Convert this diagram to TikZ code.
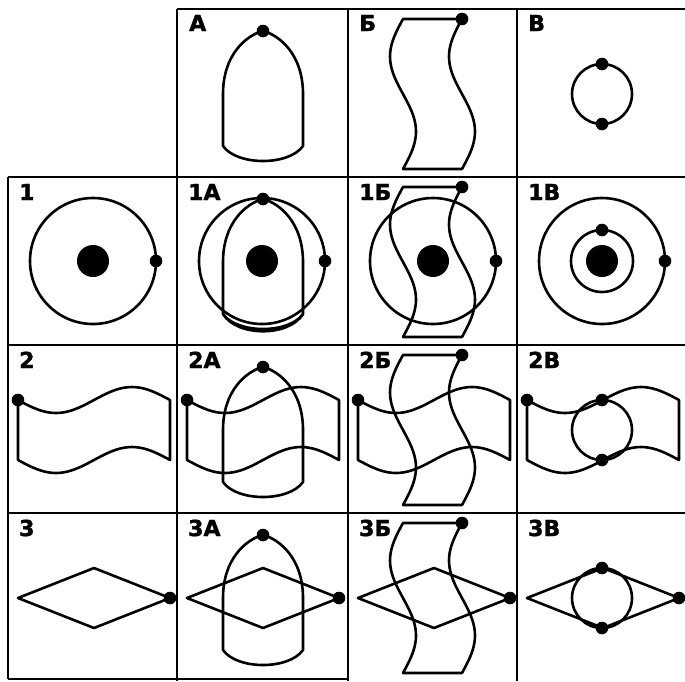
\documentclass[tikz,border=0pt]{standalone}
\usepackage{fontspec}
\newfontfamily\cellfont[BoldFeatures={FakeBold=1.6}]{DejaVu Sans}

\begin{document}
\begin{tikzpicture}[
        x=1pt, y=-1pt,
        grid/.style={line width=2.8pt},
        outline/.style={line width=2.6pt, line join=round},
        lbl/.style={anchor=base west, inner sep=0pt,
                    font=\cellfont\bfseries\fontsize{22}{22}\selectfont},
        % shapes, drawn from the top left corner of a cell
        arch/.pic={
            \draw[outline] (46,137) -- (46,85) .. controls (46,45) and (70,26) .. (86,22)
                .. controls (102,26) and (126,45) .. (126,85) -- (126,137)
                .. controls (112,157) and (60,157) .. cycle;
            \fill (86,22) circle (6.3);
        },
        strip/.pic={
            \draw[outline] (55,10) -- (114,10)
                -- plot[domain=0:1, samples=41, smooth] ({114-13*sin(360*\x)}, {10+150*\x})
                -- (55,160)
                -- plot[domain=1:0, samples=41, smooth] ({55-13*sin(360*\x)}, {10+150*\x})
                -- cycle;
            \fill (114,10) circle (6.3);
        },
        ring/.pic={
            \draw[outline] (85,85) circle (30);
            \fill (85,55) circle (6.3);
            \fill (85,115) circle (6.3);
        },
        orbit/.pic={
            \draw[outline] (85,84) circle (63);
            \fill (85,84) circle (16);
            \fill (148,84) circle (6.3);
        },
        flag/.pic={
            \draw[outline] plot[domain=0:1, samples=41, smooth] ({10+152*\x}, {55+13*sin(360*\x)})
                -- (162,115)
                -- plot[domain=1:0, samples=41, smooth] ({10+152*\x}, {115+13*sin(360*\x)})
                -- cycle;
            \fill (10,55) circle (6.3);
        },
        rhomb/.pic={
            \draw[outline] (10,85) -- (86,55) -- (162,85) -- (86,115) -- cycle;
            \fill (162,85) circle (6.3);
        },
    ]
    \useasboundingbox (0,0) rectangle (685,681);

    % table lines
    \draw[grid] (177,9) -- (685,9);
    \draw[grid] (8,177) -- (685,177);
    \draw[grid] (8,345) -- (685,345);
    \draw[grid] (8,513) -- (685,513);
    \draw[grid] (8,679) -- (348,679);
    \draw[grid] (8,177) -- (8,679);
    \draw[grid] (177,9) -- (177,681);
    \draw[grid] (348,9) -- (348,681);
    \draw[grid] (517,9) -- (517,681);

    % top row
    \pic (archA) at (177,9) {arch};
    \pic (stripB) at (348,9) {strip};
    \pic (ringV) at (517,9) {ring};

    % row 1
    \pic (orbit1) at (8,177) {orbit};
    \pic (orbit1A) at (177,177) {orbit};
    \pic (arch1A) at (177,177) {arch};
    \draw[outline] (223,314) .. controls (237,337) and (289,337) .. (303,314);
    \pic (orbit1B) at (348,177) {orbit};
    \pic (strip1B) at (348,177) {strip};
    \pic (orbit1V) at (517,177) {orbit};
    \draw[outline] (602,261) circle (31);
    \fill (602,230) circle (6.3);

    % row 2
    \pic (flag2) at (8,345) {flag};
    \pic (flag2A) at (177,345) {flag};
    \pic (arch2A) at (177,345) {arch};
    \pic (flag2B) at (348,345) {flag};
    \pic (strip2B) at (348,345) {strip};
    \pic (flag2V) at (517,345) {flag};
    \pic (ring2V) at (517,345) {ring};

    % row 3
    \pic (rhomb3) at (8,513) {rhomb};
    \pic (rhomb3A) at (177,513) {rhomb};
    \pic (arch3A) at (177,513) {arch};
    \pic (rhomb3B) at (348,513) {rhomb};
    \pic (strip3B) at (348,513) {strip};
    \pic (rhomb3V) at (517,513) {rhomb};
    \pic (ring3V) at (517,513) {ring};

    % cell labels
    \node[lbl] (labA) at (189,31) {А};
    \node[lbl] (labB) at (359,31) {Б};
    \node[lbl] (labV) at (528,31) {В};
    \node[lbl] (lab1) at (19,200) {1};
    \node[lbl] (lab1A) at (188,200) {1А};
    \node[lbl] (lab1B) at (359,200) {1Б};
    \node[lbl] (lab1V) at (528,200) {1В};
    \node[lbl] (lab2) at (19,368) {2};
    \node[lbl] (lab2A) at (188,368) {2А};
    \node[lbl] (lab2B) at (359,368) {2Б};
    \node[lbl] (lab2V) at (528,368) {2В};
    \node[lbl] (lab3) at (19,536) {3};
    \node[lbl] (lab3A) at (188,536) {3А};
    \node[lbl] (lab3B) at (359,536) {3Б};
    \node[lbl] (lab3V) at (528,536) {3В};
\end{tikzpicture}
\end{document}
